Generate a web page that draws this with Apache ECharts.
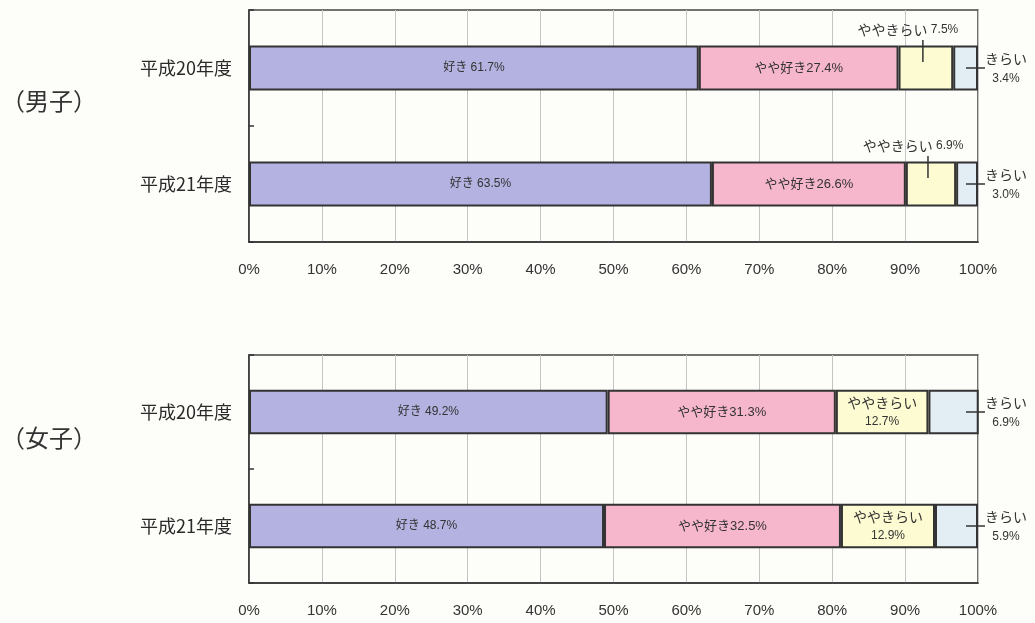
<!DOCTYPE html>
<html>
<head>
<meta charset="utf-8">
<script src="https://cdn.jsdelivr.net/npm/echarts@6/dist/echarts.min.js"></script>
<style>
html,body{margin:0;padding:0;background:#fdfdf9;}
#chart{width:1035px;height:623px;}
</style>
</head>
<body>
<div id="chart"></div>
<script>
// ---- data ----
const categories = ['平成20年度', '平成21年度'];
const seriesNames = ['好き', 'やや好き', 'ややきらい', 'きらい'];
const tickLabels = ['0%', '10%', '20%', '30%', '40%', '50%', '60%', '70%', '80%', '90%', '100%'];
const boysLike = [61.7, 63.5];
const boysSomewhatLike = [27.4, 26.6];
const boysSomewhatDislike = [7.5, 6.9];
const boysDislike = [3.4, 3.0];
const girlsLike = [49.2, 48.7];
const girlsSomewhatLike = [31.3, 32.5];
const girlsSomewhatDislike = [12.7, 12.9];
const girlsDislike = [6.9, 5.9];
const groupTitles = ['（男子）', '（女子）'];

// ---- styles ----
const colors = ['#b3b2e0', '#f6b6cc', '#fdfbd2', '#e2edf4'];
const FONT = '"Liberation Sans", "Noto Sans CJK JP", sans-serif';
const CJK = '"Noto Sans CJK JP", sans-serif';
const border = { borderColor: '#333', borderWidth: 2 };

const chart = echarts.init(document.getElementById('chart'), null, { renderer: 'canvas' });

function xAxisFor(gi) {
  return {
    type: 'value', gridIndex: gi, min: 0, max: 100, interval: 10,
    axisLine: { show: true, lineStyle: { color: '#333', width: 1.5 } }, axisTick: { show: false },
    axisLabel: {
      margin: 20, fontSize: 15, color: '#333', fontFamily: FONT,
      formatter: v => tickLabels[Math.round(v / 10)]
    },
    splitLine: { show: true, lineStyle: { color: '#c4c4c4', width: 1 } }
  };
}
function yAxisFor(gi) {
  return {
    type: 'category', gridIndex: gi, data: categories, inverse: true,
    axisLine: { show: true, lineStyle: { color: '#333', width: 1.5 } },
    axisTick: { show: true, inside: true, length: 5, lineStyle: { color: '#333', width: 1.5 } },
    axisLabel: { margin: 17, fontSize: 18, color: '#2a2a2a', fontFamily: CJK, fontWeight: 'normal' }
  };
}

function barSeries(gi, arrays, insideYaya) {
  return arrays.map((arr, si) => {
    let label;
    if (si === 0 || si === 1) {
      label = {
        show: true, position: 'inside', color: '#333', fontFamily: FONT, fontSize: si === 1 ? 13 : 12,
        formatter: p => seriesNames[si] + (si === 0 ? ' ' : '') + p.value.toFixed(1) + '%'
      };
    } else if (si === 2 && insideYaya) {
      label = {
        show: true, position: 'inside', color: '#333', fontFamily: FONT,
        formatter: p => '{a|' + seriesNames[2] + '}\n{b|' + p.value.toFixed(1) + '%}',
        rich: {
          a: { fontSize: 14, fontFamily: CJK, color: '#333', lineHeight: 20 },
          b: { fontSize: 12, fontFamily: FONT, color: '#333', lineHeight: 18 }
        }
      };
    } else {
      label = { show: false };
    }
    return {
      type: 'bar', name: seriesNames[si], xAxisIndex: gi, yAxisIndex: gi,
      stack: 'g' + gi, data: arr, barWidth: '39%',
      itemStyle: Object.assign({ color: colors[si] }, border),
      label: label, silent: true, animation: false
    };
  });
}

// annotation data: [startValue, endValue, categoryIndex, value, kind]
function annotData(arrays, withYaya) {
  const out = [];
  categories.forEach((c, ci) => {
    const a0 = arrays[0][ci], a1 = arrays[1][ci], a2 = arrays[2][ci], a3 = arrays[3][ci];
    if (withYaya) out.push([a0 + a1, a0 + a1 + a2, ci, a2, 0]);
    out.push([100 - a3, 100, ci, a3, 1]);
  });
  return out;
}

function annotSeries(gi, data) {
  return {
    type: 'custom', xAxisIndex: gi, yAxisIndex: gi, data: data, silent: true, animation: false,
    clip: false, z: 10,
    renderItem: function (params, api) {
      const s = api.value(0), e = api.value(1), ci = api.value(2), v = api.value(3), kind = api.value(4);
      const mid = api.coord([(s + e) / 2, ci]);
      const right = api.coord([100, ci]);
      const cy = mid[1];
      if (kind === 0) {
        const x = mid[0] - 3;
        return {
          type: 'group', children: [
            { type: 'line', shape: { x1: x, y1: cy - 6, x2: x, y2: cy - 28 }, style: { stroke: '#333', lineWidth: 1.5 } },
            { type: 'text', style: {
                x: x - 15, y: cy - 38, text: '{a|' + seriesNames[2] + '} {b|' + v.toFixed(1) + '%}',
                align: 'center', verticalAlign: 'middle',
                rich: {
                  a: { fontSize: 14, fontFamily: CJK, fill: '#333' },
                  b: { fontSize: 12, fontFamily: FONT, fill: '#333' }
                }
            } }
          ]
        };
      } else {
        const x0 = right[0];
        return {
          type: 'group', children: [
            { type: 'line', shape: { x1: x0 - 12, y1: cy, x2: x0 + 7, y2: cy }, style: { stroke: '#333', lineWidth: 1.5 } },
            { type: 'text', style: {
                x: x0 + 28, y: cy, text: '{a|' + seriesNames[3] + '}\n{b|' + v.toFixed(1) + '%}',
                align: 'center', verticalAlign: 'middle',
                rich: {
                  a: { fontSize: 14, fontFamily: CJK, fill: '#333', lineHeight: 21, align: 'center' },
                  b: { fontSize: 12, fontFamily: FONT, fill: '#333', lineHeight: 18, align: 'center' }
                }
            } }
          ]
        };
      }
    }
  };
}

const boys = [boysLike, boysSomewhatLike, boysSomewhatDislike, boysDislike];
const girls = [girlsLike, girlsSomewhatLike, girlsSomewhatDislike, girlsDislike];

const option = {
  backgroundColor: '#fdfdf9',
  title: [
    { text: groupTitles[0], left: -4, top: 84, textStyle: { fontSize: 24, fontWeight: 'normal', color: '#333', fontFamily: CJK } },
    { text: groupTitles[1], left: -4, top: 421, textStyle: { fontSize: 24, fontWeight: 'normal', color: '#333', fontFamily: CJK } }
  ],
  grid: [
    { left: 249, top: 10, width: 729, height: 232, show: true, borderColor: '#444', borderWidth: 1.5, backgroundColor: 'transparent' },
    { left: 249, top: 355, width: 729, height: 228, show: true, borderColor: '#444', borderWidth: 1.5, backgroundColor: 'transparent' }
  ],
  xAxis: [xAxisFor(0), xAxisFor(1)],
  yAxis: [yAxisFor(0), yAxisFor(1)],
  series: [
    ...barSeries(0, boys, false),
    ...barSeries(1, girls, true),
    annotSeries(0, annotData(boys, true)),
    annotSeries(1, annotData(girls, false))
  ]
};
chart.setOption(option);
</script>
</body>
</html>
